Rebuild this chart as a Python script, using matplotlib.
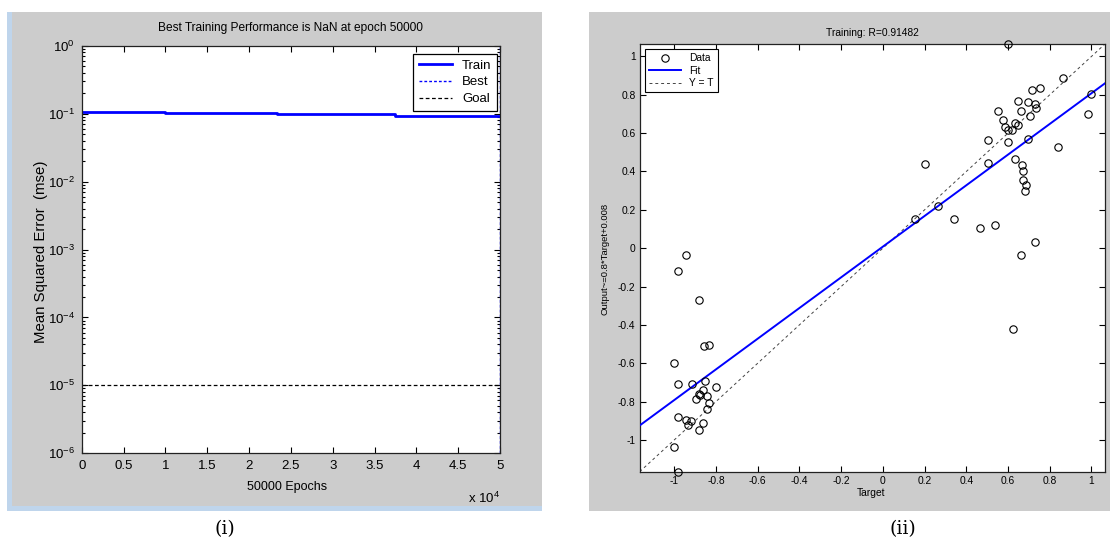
import numpy as np
import matplotlib
matplotlib.use("Agg")
import matplotlib.pyplot as plt
import matplotlib.font_manager as fm
from matplotlib.patches import Rectangle
from matplotlib.ticker import FixedLocator, FixedFormatter, LogLocator, NullFormatter

# ---- data: panel (i), training performance ----
step_epochs = [0, 10000, 23300, 37500, 50000]
train_mse = [0.107, 0.102, 0.099, 0.093]
goal_mse = 1e-5
best_epoch = 50000
x_ticks = [0, 5000, 10000, 15000, 20000, 25000, 30000, 35000, 40000, 45000, 50000]
x_tick_labels = ['0', '0.5', '1', '1.5', '2', '2.5', '3', '3.5', '4', '4.5', '5']

# ---- data: panel (ii), regression of outputs on targets ----
targets = [-0.942, -0.981, -0.884, -0.856, -0.835, -1.000, -0.981, -0.914, -0.855,
           -0.798, -0.863, -0.884, -0.877, -0.895, -0.843, -0.835, -0.845, -0.981,
           -0.942, -0.922, -0.934, -0.863, -0.884, -1.000, -0.981,
           0.598, 0.864, 0.754, 0.717, 0.649, 0.695, 0.730, 0.732, 0.553, 0.661,
           0.706, 0.575, 0.633, 0.585, 0.648, 0.599, 0.620, 1.000, 0.985, 0.502,
           0.599, 0.696, 0.838, 0.200, 0.502, 0.635, 0.667, 0.672, 0.672, 0.685,
           0.683, 0.263, 0.153, 0.342, 0.467, 0.538, 0.730, 0.661, 0.622]
outputs = [-0.034, -0.119, -0.271, -0.509, -0.505, -0.599, -0.708, -0.708, -0.691,
           -0.724, -0.742, -0.760, -0.767, -0.785, -0.769, -0.810, -0.839, -0.881,
           -0.895, -0.904, -0.921, -0.912, -0.948, -1.038, -1.166,
           1.065, 0.890, 0.834, 0.823, 0.769, 0.765, 0.753, 0.733, 0.715, 0.715,
           0.688, 0.671, 0.652, 0.634, 0.641, 0.616, 0.616, 0.803, 0.699, 0.563,
           0.556, 0.569, 0.529, 0.439, 0.442, 0.464, 0.435, 0.404, 0.354, 0.329,
           0.298, 0.222, 0.150, 0.153, 0.106, 0.119, 0.032, -0.034, -0.422]
fit_slope = 0.8
fit_intercept = 0.008
r_value = 0.91482
reg_ticks = [-1, -0.8, -0.6, -0.4, -0.2, 0, 0.2, 0.4, 0.6, 0.8, 1]
reg_tick_labels = ['-1', '-0.8', '-0.6', '-0.4', '-0.2', '0', '0.2', '0.4', '0.6', '0.8', '1']

# fonts (narrow face if there is one, it matches the squeezed MATLAB text better)
names = {f.name for f in fm.fontManager.ttflist}
if 'Liberation Sans Narrow' in names:
    left_font, left_size, tick_size = 'Liberation Sans Narrow', 11, 11
else:
    left_font, left_size, tick_size = 'Liberation Sans', 9, 9.5
right_font, right_size = 'Liberation Sans', 7.4

plt.rcParams['font.family'] = ['Liberation Sans', 'DejaVu Sans']
plt.rcParams['axes.unicode_minus'] = False
plt.rcParams['mathtext.fontset'] = 'custom'
plt.rcParams['mathtext.rm'] = left_font
plt.rcParams['mathtext.it'] = left_font
plt.rcParams['mathtext.default'] = 'regular'

W, H = 1110, 543
fig = plt.figure(figsize=(W / 100, H / 100), dpi=100)
fig.patch.set_facecolor('white')


def px_rect(x0, y0, x1, y1):
    # pixel box (top-left origin) -> figure fraction [left, bottom, width, height]
    return [x0 / W, 1 - y1 / H, (x1 - x0) / W, (y1 - y0) / H]


gray = '#cccccc'
for (x0, y0, x1, y1), col in [((7, 12, 542, 511), '#bfd5ec'),
                              ((12, 12, 542, 506), gray),
                              ((589, 12, 1110, 511), gray)]:
    l, b, w, h = px_rect(x0, y0, x1, y1)
    fig.add_artist(Rectangle((l, b), w, h, transform=fig.transFigure,
                             facecolor=col, edgecolor='none', zorder=0))

# ---------------- panel (i) ----------------
ax1 = fig.add_axes(px_rect(81.7, 45.7, 500, 453.3))
ax1.set_facecolor('white')
ax1.plot(step_epochs, train_mse + [train_mse[-1]], drawstyle='steps-post',
         color='blue', lw=2, label='Train')
ax1.axvline(best_epoch, color='blue', lw=1, ls=(0, (2, 1.5)), label='Best', zorder=5)
ax1.axhline(goal_mse, color='black', lw=0.9, ls=(0, (3, 2)), label='Goal')
ax1.set_yscale('log')
ax1.set_xlim(0, 50000)
ax1.set_ylim(1e-6, 1)
ax1.xaxis.set_major_locator(FixedLocator(x_ticks))
ax1.xaxis.set_major_formatter(FixedFormatter(x_tick_labels))
ax1.yaxis.set_major_locator(LogLocator(base=10, numticks=10))
ax1.yaxis.set_minor_locator(LogLocator(base=10, subs=np.arange(2, 10), numticks=20))
ax1.yaxis.set_minor_formatter(NullFormatter())
ax1.tick_params(which='both', direction='in', top=True, right=True, width=0.8)
ax1.tick_params(which='major', length=4.5, pad=5, labelsize=tick_size)
ax1.tick_params(which='minor', length=2.5)
for lab in ax1.get_xticklabels() + ax1.get_yticklabels():
    lab.set_fontfamily(left_font)
for s in ax1.spines.values():
    s.set_linewidth(0.9)
    s.set_color('#222222')
ax1.set_title('Best Training Performance is NaN at epoch %d' % step_epochs[-1],
              fontsize=left_size - 0.4, family=left_font, pad=0, y=1.0434, va='center')
ax1.set_xlabel('%d Epochs' % step_epochs[-1], fontsize=left_size, family=left_font, va='center')
ax1.xaxis.set_label_coords(0.491, -0.0827)
ax1.set_ylabel('Mean Squared Error  (mse)', fontsize=10.8, va='center')
ax1.yaxis.set_label_coords(-0.0973, 0.4946)
ax1.text(1.0, -0.122, r'x 10$^{4}$', transform=ax1.transAxes, ha='right', va='baseline',
         fontsize=tick_size, family=left_font)
leg1 = ax1.legend(loc='upper right', bbox_to_anchor=(0.9928, 0.9796), borderaxespad=0,
                  fancybox=False, edgecolor='black', framealpha=1, handlelength=2.5,
                  labelspacing=0.35, borderpad=0.4,
                  prop={'family': left_font, 'size': left_size + 0.5})
leg1.get_frame().set_linewidth(0.9)

# ---------------- panel (ii) ----------------
ax2 = fig.add_axes(px_rect(639.7, 44, 1105, 471.7))
ax2.set_facecolor('white')
lim = [min(min(targets), min(outputs)), max(max(targets), max(outputs))]
ax2.plot(targets, outputs, 'o', mfc='none', mec='black', ms=5.3, mew=0.8,
         label='Data', clip_on=False, zorder=4)
ax2.plot(lim, [fit_slope * v + fit_intercept for v in lim], color='blue', lw=1.4,
         label='Fit', zorder=3)
ax2.plot(lim, lim, color='#444444', lw=0.7, ls=(0, (3, 3)), label='Y = T', zorder=2)
ax2.set_xlim(lim)
ax2.set_ylim(lim)
ax2.xaxis.set_major_locator(FixedLocator(reg_ticks))
ax2.xaxis.set_major_formatter(FixedFormatter(reg_tick_labels))
ax2.yaxis.set_major_locator(FixedLocator(reg_ticks))
ax2.yaxis.set_major_formatter(FixedFormatter(reg_tick_labels))
ax2.tick_params(direction='in', top=True, right=True, length=4.5, width=0.8,
                pad=3, labelsize=right_size)
for s in ax2.spines.values():
    s.set_linewidth(0.9)
    s.set_color('#222222')
ax2.set_title('Training: R=%.5f' % r_value, fontsize=right_size, pad=0, y=1.026, va='center')
ax2.set_xlabel('Target', fontsize=right_size, va='center')
ax2.xaxis.set_label_coords(0.497, -0.0498)
ax2.set_ylabel('Output~=%g*Target+%g' % (fit_slope, fit_intercept), fontsize=6.8, va='center')
ax2.yaxis.set_label_coords(-0.0746, 0.498)
leg2 = ax2.legend(loc='upper left', bbox_to_anchor=(0.0118, 0.988), borderaxespad=0,
                  fancybox=False, edgecolor='black', framealpha=1, handlelength=3.1,
                  labelspacing=0.25, borderpad=0.4, fontsize=right_size)
leg2.get_frame().set_linewidth(0.8)

# captions
fig.text(225 / W, 1 - 529.5 / H, '(i)', ha='center', va='center', fontsize=13.5,
         family='DejaVu Serif')
fig.text(902.6 / W, 1 - 529.5 / H, '(ii)', ha='center', va='center', fontsize=13.5,
         family='DejaVu Serif')

fig.savefig('out.png', dpi=100)
